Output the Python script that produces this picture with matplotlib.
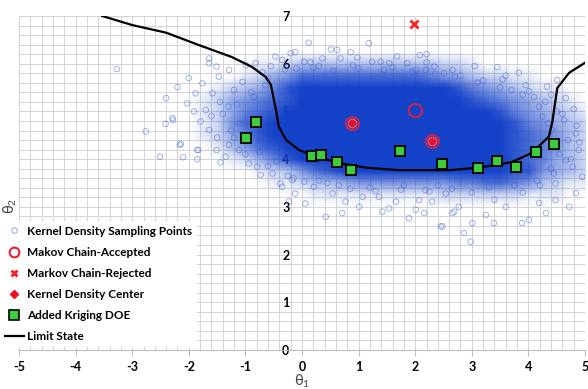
import numpy as np
import matplotlib.pyplot as plt
from matplotlib.colors import LinearSegmentedColormap
from matplotlib.lines import Line2D

plt.rcParams['font.family'] = ['Lato', 'DejaVu Sans']
plt.rcParams['axes.unicode_minus'] = False

# limit state curve
limit_x = [-3.53, -3.0, -2.4, -1.82, -1.24, -0.88, -0.64, -0.55, -0.46, -0.41, -0.28, -0.05, 0.25,
           0.65, 1.13, 1.71, 2.6, 3.13, 3.71, 4.06, 4.36, 4.42, 4.51, 4.72, 5.0]
limit_y = [7.0, 6.81, 6.65, 6.39, 6.14, 5.93, 5.72, 5.56, 5.03, 4.68, 4.40, 4.19, 4.05,
           3.92, 3.82, 3.77, 3.77, 3.82, 3.94, 4.13, 4.47, 4.76, 5.49, 5.81, 6.02]

# added kriging DOE
doe_x = [-0.99, -0.81, 0.18, 0.34, 0.62, 0.87, 1.73, 2.47, 3.11, 3.44, 3.78, 4.13, 4.45]
doe_y = [4.44, 4.78, 4.07, 4.09, 3.94, 3.77, 4.17, 3.90, 3.81, 3.97, 3.84, 4.14, 4.31]

# markov chain
accepted_x = [0.89, 2.0, 2.29]
accepted_y = [4.75, 5.02, 4.37]
rejected_x = [1.97]
rejected_y = [6.83]
center_x = [0.89, 2.29]
center_y = [4.75, 4.37]

# kernel density sampling points: density of the dense core (0-9) read per cell
dens_x = [-2.0, -1.75, -1.5, -1.25, -1.0, -0.75, -0.5, -0.25, 0.0, 0.25, 0.5, 0.75, 1.0, 1.25, 1.5,
          1.75, 2.0, 2.25, 2.5, 2.75, 3.0, 3.25, 3.5, 3.75, 4.0, 4.25, 4.5, 4.75, 5.0]
dens_y = [6.5, 6.25, 6.0, 5.75, 5.5, 5.25, 5.0, 4.75, 4.5, 4.25, 4.0, 3.75, 3.5, 3.25, 3.0, 2.75, 2.5]
dens_rows = [
    "00000000000000000000000000000",
    "00000000000000000000000000000",
    "00000112333333333322100000000",
    "00001245777777777654322110000",
    "00123468999999999998654321100",
    "01245678999999999999876543210",
    "01246789999999999999998654321",
    "01257899999999999999999865432",
    "01246899999999999999999876532",
    "00135789999999999999999876532",
    "00012468999999999999999876432",
    "00000123578999999999999885432",
    "00000011233455555556677653211",
    "00000000011111111122222211100",
    "00000000000000000000000000000",
    "00000000000000000000000000000",
    "00000000000000000000000000000",
]

# sparse sampling points around the core
cloud_x = [-2.76, -2.51, -2.40, -2.28, -2.41, -2.16, -2.10, -1.85, -1.85, -2.00, -2.03, -1.91, -1.79,
           -1.64, -1.51, -1.29, -1.11, -0.94, -0.79, -0.73, -0.52, -0.38, -0.35, -0.17, -1.64, -1.51,
           -1.58, -1.70, -1.47, -1.88, -1.76, -0.47, -0.35, -0.82, -1.29, -0.99, -3.27, -1.64, -2.20,
           -2.29, -2.14, -1.44, -1.83,
           0.12, 1.18, 0.51, 0.62, 0.86, -0.20, -0.12, 0.36, 0.98, 1.68, 2.08, 2.20, 2.20, 2.34, 2.51,
           0.04, 0.15, 0.68, 1.39, 1.54, 1.86, 1.24, 2.01, 2.19,
           2.66, 3.45, 3.83, 3.54, 4.01, 4.33, 4.51, 4.66, 4.19, 4.63, 4.84, 4.89, 4.78, 4.95, 4.84,
           4.72, 4.48, 4.31, 4.01, 3.89, 3.39, 3.25, 3.01, 2.86, 2.98, 2.48, 2.66, 3.60, 4.19, 4.48,
           4.66, 4.42, 4.25,
           -0.12, 0.06, 0.04, 0.21, 0.42, 0.54, 0.71, 1.01, 1.36, 1.42, 1.54, 1.66, 1.89, 2.01, 2.16,
           2.07, 2.30, 2.45, 2.69, 2.77, 1.07, 0.77, -0.23, 2.18, 2.54,
           -1.20, -1.05, -0.70, -0.55, -1.35, -1.00, -0.60, -0.25, 0.30, 0.65, 1.20, 1.80, 2.40, 3.00,
           3.40, 3.90, 4.20, 4.40, 4.55, 4.70, 4.50, 4.10, 3.70, 3.20, 2.80, 3.05, 0.30, 0.90, 1.60,
           -0.10, -1.40, -1.15, -0.95, -1.25, -0.85, -0.65, -1.50, -1.10, -0.75, -0.45,
           -0.30, 0.20, 0.55, 1.00, 1.45, 1.95, 2.35, 2.70, 3.10, 3.50, 3.90, 4.30, 4.60, 4.85,
           -0.15, 0.45, 0.85, 1.30, 1.75, 2.25, 2.65, 3.30, 3.75, 4.15, 4.45, 4.75, 4.90, 4.35,
           -1.30, -1.60, -0.90, -1.20, -0.60, -1.45, 3.95, 4.40, 4.80, 3.60]
cloud_y = [4.58, 4.05, 5.28, 4.82, 4.74, 4.30, 4.04, 4.19, 4.00, 5.70, 5.17, 5.00, 4.79,
           4.61, 4.19, 4.30, 4.19, 3.91, 3.84, 3.67, 3.70, 3.49, 3.42, 3.56, 6.01, 5.94,
           5.38, 5.03, 5.73, 5.38, 5.59, 6.15, 6.08, 6.01, 5.87, 5.97, 5.89, 6.11, 5.51,
           4.86, 4.32, 3.93, 4.19,
           6.44, 6.43, 6.30, 6.29, 6.24, 6.22, 6.24, 6.11, 6.13, 6.15, 6.18, 6.20, 6.03, 5.94, 5.80,
           6.04, 6.03, 6.11, 6.04, 6.01, 6.01, 6.04, 5.87, 5.87,
           5.87, 5.93, 5.81, 5.67, 5.42, 5.52, 5.66, 5.28, 5.10, 4.82, 4.54, 4.19, 3.84, 3.63, 3.29,
           3.00, 3.14, 2.87, 2.73, 2.66, 2.66, 2.83, 2.66, 2.45, 2.27, 2.59, 2.87, 3.00, 3.08, 3.49,
           3.98, 4.61, 4.89,
           3.28, 3.07, 3.53, 3.42, 2.79, 3.28, 2.87, 3.00, 3.21, 2.90, 2.97, 3.11, 2.76, 2.94, 2.87,
           3.14, 3.11, 2.59, 2.90, 3.00, 3.21, 3.11, 3.11, 3.35, 3.28,
           5.45, 5.62, 5.82, 5.95, 4.05, 4.10, 3.85, 3.65, 3.55, 3.45, 3.40, 3.45, 3.45, 3.30,
           3.15, 3.30, 3.45, 3.80, 4.10, 4.40, 5.00, 5.30, 5.45, 5.65, 5.75, 5.95, 5.95, 5.97, 5.92,
           5.90, 4.95, 5.15, 4.85, 4.60, 5.30, 5.55, 4.45, 4.75, 4.15, 3.95,
           5.88, 5.92, 5.85, 5.90, 5.87, 5.83, 5.78, 5.72, 5.60, 5.50, 5.35, 5.20, 4.95, 4.70,
           3.60, 3.50, 3.38, 3.33, 3.36, 3.32, 3.38, 3.40, 3.45, 3.55, 3.70, 4.00, 4.35, 4.75,
           5.10, 4.90, 5.40, 4.45, 5.70, 5.20, 5.55, 5.35, 5.05, 5.75]

blue = (0.08, 0.26, 0.79)
fig = plt.figure(figsize=(5.88, 3.89), dpi=100)
ax = fig.add_axes([0.0323, 0.1003, 0.9626, 0.8586])

dens = np.array([[int(c) for c in row] for row in dens_rows], dtype=float) / 9.0
cmap = LinearSegmentedColormap.from_list('cloud', [blue + (0.0,), blue + (1.0,)])
half = 0.125
ax.imshow(dens, cmap=cmap, vmin=0, vmax=1, interpolation='bilinear', aspect='auto',
          extent=(dens_x[0] - half, dens_x[-1] + half, dens_y[-1] - half, dens_y[0] + half),
          origin='upper', zorder=1)

ax.scatter(cloud_x, cloud_y, s=16, facecolors='none', edgecolors='#3b62d6', linewidths=0.6,
           alpha=0.55, zorder=2)
ax.plot(limit_x, limit_y, color='black', lw=1.6, zorder=3)
ax.plot(doe_x, doe_y, 's', ms=6.5, mfc='#3ccc3c', mec='black', mew=1.3, zorder=4)
ax.plot(accepted_x, accepted_y, 'o', ms=9.5, mfc='none', mec='#e3203a', mew=1.3, zorder=5)
ax.plot(center_x, center_y, 'o', ms=6, mfc='none', mec='#ff6070', mew=0.9, zorder=5)
ax.plot(center_x, center_y, 'D', ms=3.5, color='#ee1020', zorder=6)
ax.plot(rejected_x, rejected_y, 'x', ms=5.5, mew=2, color='#ff2020', zorder=5)

ax.set_xlim(-5, 5)
ax.set_ylim(0, 7)
ax.set_xticks(np.arange(-5, 6, 1))
ax.set_yticks(np.arange(0, 8, 1))
ax.set_xticks(np.arange(-5, 5.01, 0.2), minor=True)
ax.set_yticks(np.arange(0, 7.01, 0.2), minor=True)
ax.grid(True, which='both', color='#d2d2d2', lw=0.7)
ax.set_axisbelow(True)

ax.spines['left'].set_position(('data', 0))
ax.spines['left'].set_visible(False)
ax.spines['top'].set_visible(False)
ax.spines['right'].set_visible(False)
ax.spines['bottom'].set_color('#bdbdbd')
ax.tick_params(axis='x', which='major', length=4, color='#bdbdbd', labelsize=9, pad=4)
ax.tick_params(axis='y', which='major', length=0, labelsize=9, pad=9)
ax.tick_params(which='minor', length=0)
for lab in ax.get_xticklabels() + ax.get_yticklabels():
    lab.set_fontweight('bold')

ax.set_xlabel(r'$\mathregular{\theta_1}$', fontsize=10.5, color='#444444', labelpad=0)
fig.text(0.018, 0.47, r'$\mathregular{\theta_2}$', fontsize=10.5, color='#444444', rotation=90,
         ha='center', va='center')

handles = [
    Line2D([], [], ls='none', marker='o', ms=4, mfc='none', mec='#9fb2e6', mew=0.8),
    Line2D([], [], ls='none', marker='o', ms=7, mfc='none', mec='#e3203a', mew=1.5),
    Line2D([], [], ls='none', marker='x', ms=5, mew=2, color='#ff2020'),
    Line2D([], [], ls='none', marker='D', ms=4, color='#ee1020'),
    Line2D([], [], ls='none', marker='s', ms=6.5, mfc='#3ccc3c', mec='black', mew=1.2),
    Line2D([], [], color='black', lw=1.6),
]
labels = ['Kernel Density Sampling Points', 'Makov Chain-Accepted', 'Markov Chain-Rejected',
          'Kernel Density Center', 'Added Kriging DOE', 'Limit State']
leg = fig.legend(handles, labels, loc='lower left', bbox_to_anchor=(0.0, 0.108),
                 prop={'weight': 'bold', 'size': 8.5}, frameon=True, fancybox=False,
                 edgecolor='none', framealpha=1, handlelength=1.6, handletextpad=0.3,
                 labelspacing=0.86, borderpad=0.4, borderaxespad=0)

fig.savefig('out.png', dpi=100)
